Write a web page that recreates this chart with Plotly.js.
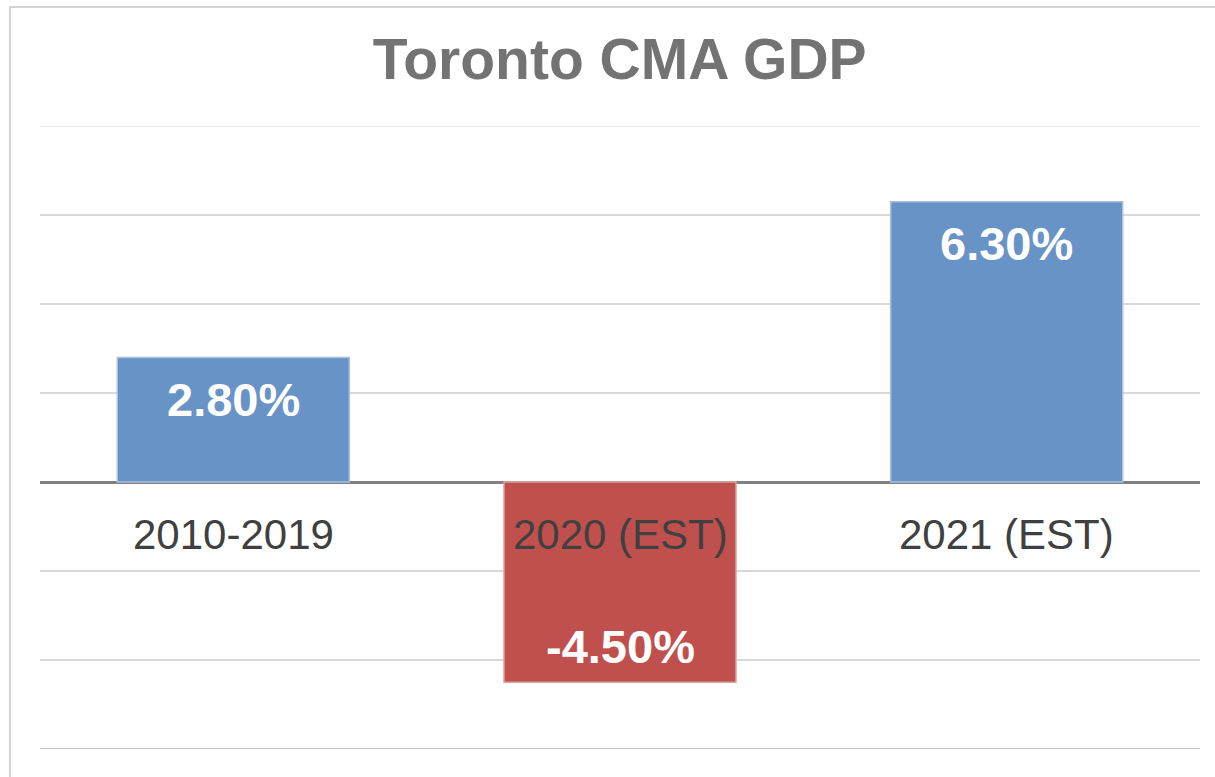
<!DOCTYPE html>
<html>
<head>
<meta charset="utf-8">
<script src="https://cdn.plot.ly/plotly-3.0.1.min.js"></script>
<style>
  html, body { margin: 0; padding: 0; background: #fff; overflow: hidden; }
  #frame { position: absolute; left: 9px; top: 6px; width: 1300px; height: 900px;
           border-top: 2px solid #d4d4d4; border-left: 2px solid #d4d4d4; pointer-events: none; }
  #chart { position: absolute; left: 0; top: 0; width: 1215px; height: 777px; }
</style>
</head>
<body>
<div id="chart"></div>
<div id="frame"></div>
<script>
const categories = ["2010-2019", "2020 (EST)", "2021 (EST)"];
const growth = [2.8, -4.5, 6.3];
const labels = ["2.80%", "-4.50%", "6.30%"];
const barColors = ["#6893C7", "#C0504D", "#6893C7"];
const edgeColors = ["#a8c0e0", "#dca3a1", "#a8c0e0"];
const yMin = -6, yMax = 8;

const font = "Liberation Sans, Arial, Helvetica, sans-serif";

const annotations = [];
categories.forEach((c, i) => {
  const v = growth[i];
  annotations.push({
    x: c, y: v, xref: "x", yref: "y",
    text: "<b>" + labels[i] + "</b>",
    showarrow: false,
    yanchor: "middle",
    yshift: v >= 0 ? -42 : 36,
    font: { family: font, size: 47, color: "#ffffff" }
  });
  annotations.push({
    x: c, y: 0, xref: "x", yref: "y",
    text: c,
    showarrow: false,
    yanchor: "middle",
    yshift: -52,
    font: { family: font, size: 42, color: "#404040" }
  });
});

const data = [{
  type: "bar",
  x: categories,
  y: growth,
  width: 0.6,
  marker: { color: barColors, line: { color: edgeColors, width: 1.5 } },
  hoverinfo: "none"
}];

const layout = {
  width: 1215, height: 777,
  margin: { l: 40, r: 15, t: 126, b: 28 },
  paper_bgcolor: "rgba(0,0,0,0)",
  plot_bgcolor: "#ffffff",
  showlegend: false,
  title: {
    text: "<b>Toronto CMA GDP</b>",
    x: 0.51, xanchor: "center",
    y: 1 - 59 / 777, yanchor: "middle",
    font: { family: font, size: 57, color: "#737373" }
  },
  xaxis: {
    type: "category",
    range: [-0.5, 2.5],
    showticklabels: false,
    showgrid: false, zeroline: false, showline: false, ticks: ""
  },
  yaxis: {
    range: [yMin, yMax],
    dtick: 2,
    showticklabels: false,
    showgrid: true, gridcolor: "#d9d9d9", gridwidth: 1.5,
    zeroline: true, zerolinecolor: "#808080", zerolinewidth: 3,
    showline: false, ticks: ""
  },
  shapes: [{
    type: "line", xref: "paper", yref: "y",
    x0: 0, x1: 1, y0: yMin, y1: yMin,
    line: { color: "#c4c4c4", width: 2 }
  }, {
    type: "line", xref: "paper", yref: "y",
    x0: 0, x1: 1, y0: yMax, y1: yMax,
    line: { color: "#e3e3e3", width: 1.5 }
  }],
  annotations: annotations
};

Plotly.newPlot("chart", data, layout, { displayModeBar: false, staticPlot: true });
</script>
</body>
</html>
